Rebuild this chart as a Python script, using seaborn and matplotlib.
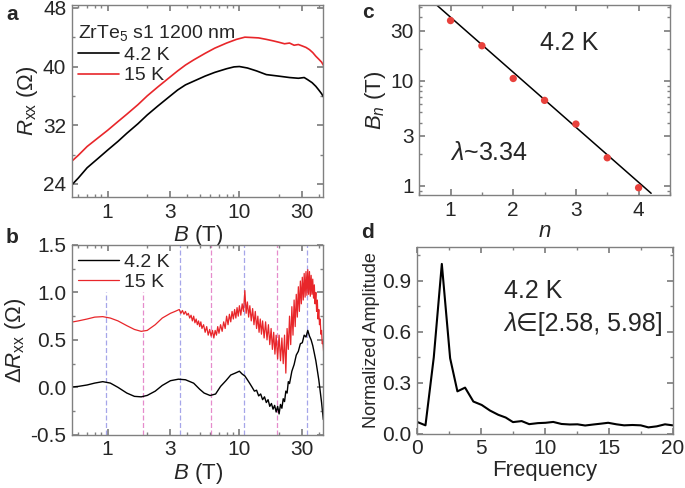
import matplotlib
matplotlib.use('Agg')
import matplotlib.pyplot as plt
import matplotlib.ticker as mticker
import seaborn as sns
import numpy as np

# panel a: R_xx vs B
b_a_42k = [0.5, 0.6, 0.7, 0.85, 1.0, 1.2, 1.4, 1.7, 2.0, 2.4, 2.9, 3.4, 3.9, 4.5, 5.5, 6.5,
           8.0, 9.1, 10.0, 11.5, 13.5, 16.0, 19.7, 24, 28, 31, 33, 35.6, 38, 40, 42, 44]
r_42k = [23.3, 24.8, 26.2, 27.5, 28.6, 29.8, 30.9, 32.2, 33.4, 34.6, 35.8, 36.8, 37.5, 38.0, 38.7, 39.2,
         39.7, 39.95, 40.0, 39.8, 39.4, 38.9, 38.7, 38.5, 38.4, 38.5, 38.2, 37.8, 37.3, 36.8, 36.3, 35.7]
b_a_15k = [0.5, 0.6, 0.7, 0.85, 1.0, 1.2, 1.4, 1.7, 2.0, 2.4, 2.9, 3.4, 3.9, 4.5, 5.5, 6.5, 8.0, 9.5,
           11.0, 12.5, 14, 16, 18, 20, 22, 24, 26, 28, 30, 32, 34, 36, 38, 40, 42, 44]
r_15k = [26.6, 27.9, 29.1, 30.3, 31.3, 32.5, 33.5, 34.8, 36.0, 37.2, 38.4, 39.4, 40.2, 40.9, 41.8, 42.5,
         43.2, 43.7, 44.0, 43.95, 43.9, 43.7, 43.5, 43.3, 43.1, 43.2, 42.9, 43.0, 42.8, 42.6, 42.3,
         41.9, 41.4, 41.0, 40.6, 40.0]

# panel b: oscillating part
b_b_42k = [0.5, 0.6, 0.7, 0.8, 0.92, 1.05, 1.2, 1.4, 1.6, 1.8, 2.0, 2.3, 2.6, 3.0, 3.45, 3.9, 4.5,
           5.0, 5.4, 6.0, 6.6, 7.2, 7.9, 8.6, 9.3, 10.0, 10.5, 11.0, 11.5, 12.0, 12.5, 13.0, 13.5,
           14.0, 14.5, 15.0, 15.5, 16.0, 16.5, 17.0, 17.5, 18.0, 18.5, 19.0, 19.5, 20.0, 20.5, 21.0,
           21.5, 22.0, 22.5, 23.0, 23.5, 24.0, 25.0, 26.0, 27.0, 28.0, 29.0, 30.0, 31.0, 32.0, 33.0,
           34.0, 35.0, 36.0, 37.0, 38.0, 39.0, 40.0, 41.0, 42.0, 43.3]
dr_42k = [0.0, 0.01, 0.025, 0.045, 0.06, 0.045, 0.0, -0.06, -0.095, -0.10, -0.085, -0.04, 0.02, 0.07,
          0.086, 0.08, 0.044, -0.02, -0.06, -0.086, -0.07, 0.01, 0.07, 0.13, 0.15, 0.17, 0.14, 0.12,
          0.08, 0.04, 0.00, -0.04, -0.03, -0.09, -0.07, -0.13, -0.10, -0.16, -0.13, -0.20, -0.17,
          -0.23, -0.19, -0.26, -0.20, -0.28, -0.18, -0.22, -0.12, -0.15, -0.04, -0.06, 0.06, 0.04,
          0.17, 0.24, 0.34, 0.38, 0.46, 0.47, 0.55, 0.53, 0.60, 0.54, 0.50, 0.44, 0.36, 0.28, 0.18,
          0.08, -0.04, -0.16, -0.34]
b_b_15k = [0.5, 0.6, 0.7, 0.8, 0.92, 1.05, 1.2, 1.4, 1.6, 1.8, 2.0, 2.3, 2.6, 3.0, 3.25,
           3.5, 3.6, 3.7, 3.8, 3.9, 4.0,
           4.1, 4.2, 4.3, 4.4, 4.5, 4.6, 4.7, 4.8, 4.9, 5.0,
           5.1, 5.2, 5.35, 5.5, 5.65, 5.8, 5.95, 6.1,
           6.25, 6.4, 6.55, 6.7, 6.85, 7.0,
           7.2, 7.4, 7.6, 7.8, 8.0, 8.2, 8.4, 8.6, 8.8, 9.0, 9.2, 9.4, 9.6, 9.8, 10.0,
           10.25, 10.5, 10.75, 11.0, 11.25, 11.5, 11.75, 12.0,
           12.3, 12.6, 12.9, 13.2, 13.5, 13.8, 14.1, 14.4, 14.7, 15.0,
           15.4, 15.8, 16.2, 16.6, 17.0, 17.4, 17.8, 18.2, 18.6, 19.0, 19.5,
           20.0, 20.5, 21.0, 21.5, 22.0, 22.5, 23.0, 23.5,
           24.0, 24.5, 25.0, 25.5, 26.0, 26.5, 27.0, 27.5, 28.0, 28.5, 29.0, 29.5, 30.0,
           30.5, 31.0, 31.5, 32.0, 32.5, 33.0, 33.5, 34.0, 34.5, 35.0,
           35.5, 36.0, 36.5, 37.0, 37.5, 38.0, 38.5, 39.0, 39.5, 40.0,
           40.5, 41.0, 41.5, 42.0, 42.5, 43.0, 43.5]
dr_15k = [0.68, 0.70, 0.72, 0.74, 0.745, 0.73, 0.70, 0.65, 0.61, 0.59, 0.60, 0.66, 0.73, 0.78, 0.80,
          0.82, 0.78, 0.81, 0.77, 0.80, 0.76,
          0.78, 0.73, 0.76, 0.70, 0.75, 0.68, 0.72, 0.66, 0.70, 0.64,
          0.69, 0.62, 0.66, 0.58, 0.64, 0.55, 0.61, 0.54,
          0.60, 0.52, 0.60, 0.55, 0.64, 0.57,
          0.66, 0.59, 0.69, 0.62, 0.75, 0.66, 0.77, 0.69, 0.80, 0.72, 0.82, 0.73, 0.84, 0.75, 0.86,
          0.76, 0.88, 0.80, 1.02, 0.78, 0.90, 0.74, 0.86,
          0.70, 0.83, 0.66, 0.80, 0.62, 0.75, 0.58, 0.72, 0.56, 0.70,
          0.52, 0.69, 0.50, 0.66, 0.45, 0.62, 0.40, 0.58, 0.35, 0.55, 0.30,
          0.55, 0.28, 0.52, 0.25, 0.55, 0.15, 0.62, 0.40,
          0.75, 0.45, 0.85, 0.55, 0.92, 0.64, 0.98, 0.74, 1.06, 0.80, 1.12, 0.88, 1.16,
          0.92, 1.20, 0.95, 1.22, 0.97, 1.24, 0.98, 1.22, 0.96, 1.18,
          0.98, 1.14, 0.94, 1.08, 0.88, 1.00, 0.80, 0.92, 0.72, 0.82,
          0.66, 0.72, 0.56, 0.60, 0.46, 0.48, 0.38]
dash_b = [0.97, 1.87, 3.55, 6.1, 10.8, 19.2, 32.6]
dash_kind = ['max', 'min', 'max', 'min', 'max', 'min', 'max']
dash_top = [1.0, 1.0, 1.5, 1.5, 1.5, 1.5, 1.5]

# panel c: B_n vs n
n_idx = [1, 1.5, 2, 2.5, 3, 3.5, 4]
b_n = [37.3, 21.5, 10.5, 6.5, 3.87, 1.85, 0.96]
fit_n = [0.7, 4.2]
fit_bn = [57.6, 0.85]

# panel d: FFT
freq = [0, 0.65, 1.3, 1.93, 2.58, 3.15, 3.75, 4.4, 5.05, 5.7, 6.35, 6.93, 7.5, 8.18, 8.77, 9.45,
        10.05, 10.65, 11.3, 11.95, 12.55, 13.15, 13.8, 14.4, 14.95, 15.6, 16.2, 16.85, 17.5, 18.1,
        18.75, 19.4, 20.0]
amp = [0.07, 0.05, 0.45, 1.0, 0.445, 0.25, 0.272, 0.19, 0.17, 0.137, 0.112, 0.096, 0.069, 0.075,
       0.057, 0.063, 0.065, 0.07, 0.058, 0.055, 0.056, 0.049, 0.055, 0.06, 0.065, 0.056, 0.05,
       0.052, 0.05, 0.038, 0.044, 0.056, 0.05]

sns.set_theme(style='ticks')
plt.rcParams['font.family'] = ['Liberation Sans', 'DejaVu Sans']
plt.rcParams['mathtext.fontset'] = 'custom'
plt.rcParams['mathtext.rm'] = 'Liberation Sans'
plt.rcParams['mathtext.it'] = 'Liberation Sans:italic'
plt.rcParams['mathtext.bf'] = 'Liberation Sans:bold'

RED = '#e8262a'
GREY = '#808080'

fig = plt.figure(figsize=(6.85, 4.88), dpi=100)
ax_a = fig.add_axes([0.105, 0.596, 0.367, 0.394])
ax_b = fig.add_axes([0.105, 0.109, 0.367, 0.389])
ax_c = fig.add_axes([0.612, 0.600, 0.366, 0.390])
ax_d = fig.add_axes([0.609, 0.111, 0.373, 0.383])


def style(ax, size=15):
    for s in ax.spines.values():
        s.set_color(GREY)
        s.set_linewidth(1.0)
    ax.tick_params(which='both', direction='in', top=True, right=True, color=GREY,
                   labelsize=size, pad=4)
    ax.tick_params(which='major', length=4)
    ax.tick_params(which='minor', length=2.5)


def log_b_axis(ax):
    ax.set_xscale('log')
    ax.set_xlim(0.537, 43.3)
    ax.xaxis.set_major_locator(mticker.FixedLocator([1, 3, 10, 30]))
    ax.xaxis.set_major_formatter(mticker.FixedFormatter(['1', '3', '10', '30']))
    ax.xaxis.set_minor_locator(mticker.LogLocator(subs=np.arange(2, 10)))
    ax.xaxis.set_minor_formatter(mticker.NullFormatter())
    ax.set_xlabel('$B$ (T)', fontsize=16, labelpad=1)


# a
sns.lineplot(x=b_a_42k, y=r_42k, ax=ax_a, color='black', lw=1.2, estimator=None, sort=False, label='4.2 K')
sns.lineplot(x=b_a_15k, y=r_15k, ax=ax_a, color=RED, lw=1.2, estimator=None, sort=False, label='15 K')
log_b_axis(ax_a)
ax_a.set_ylim(22.2, 48.4)
ax_a.set_yticks([24, 32, 40, 48])
ax_a.yaxis.set_minor_locator(mticker.MultipleLocator(4))
ax_a.set_ylabel(r'$R_{\rm xx}$ ($\Omega$)', fontsize=16, labelpad=2)
style(ax_a)
ax_a.legend(loc='upper left', bbox_to_anchor=(-0.03, 0.975), frameon=False, fontsize=14,
            title='ZrTe$_5$ s1 1200 nm', title_fontsize=14, alignment='left',
            handlelength=2.1, handletextpad=0.25, labelspacing=0.15, borderaxespad=0.3)

# b
for xb, kind, top in zip(dash_b, dash_kind, dash_top):
    ax_b.plot([xb, xb], [-0.5, top], ls=(0, (4, 2)), lw=0.9,
              color='#9090e4' if kind == 'max' else '#e070c0', alpha=0.8, zorder=1)
sns.lineplot(x=b_b_42k, y=dr_42k, ax=ax_b, color='black', lw=1.0, estimator=None, sort=False, label='4.2 K')
sns.lineplot(x=b_b_15k, y=dr_15k, ax=ax_b, color=RED, lw=0.9, estimator=None, sort=False, label='15 K')
log_b_axis(ax_b)
ax_b.set_ylim(-0.5, 1.5)
ax_b.set_yticks([-0.5, 0.0, 0.5, 1.0, 1.5])
ax_b.yaxis.set_major_formatter(mticker.FormatStrFormatter('%.1f'))
ax_b.yaxis.set_minor_locator(mticker.MultipleLocator(0.25))
ax_b.set_ylabel(r'$\Delta R_{\rm xx}$ ($\Omega$)', fontsize=16, labelpad=2)
style(ax_b)
ax_b.legend(loc='upper left', bbox_to_anchor=(-0.03, 1.03), frameon=False, fontsize=14,
            handlelength=2.1, handletextpad=0.25, labelspacing=0.15, borderaxespad=0.3)

# c
sns.lineplot(x=fit_n, y=fit_bn, ax=ax_c, color='black', lw=1.1, estimator=None, sort=False)
sns.scatterplot(x=n_idx, y=b_n, ax=ax_c, color='#e8413c', s=28, edgecolor='none', zorder=3)
ax_c.set_yscale('log')
ax_c.set_xlim(0.5, 4.5)
ax_c.set_ylim(0.815, 52.6)
ax_c.set_xticks([1, 2, 3, 4])
ax_c.xaxis.set_minor_locator(mticker.MultipleLocator(0.5))
ax_c.yaxis.set_major_locator(mticker.FixedLocator([1, 3, 10, 30]))
ax_c.yaxis.set_major_formatter(mticker.FixedFormatter(['1', '3', '10', '30']))
ax_c.yaxis.set_minor_locator(mticker.LogLocator(subs=np.arange(2, 10)))
ax_c.yaxis.set_minor_formatter(mticker.NullFormatter())
ax_c.set_xlabel('$n$', fontsize=16, labelpad=1)
ax_c.set_ylabel('$B_n$ (T)', fontsize=16, labelpad=2)
style(ax_c)
ax_c.text(0.6, 0.8, '4.2 K', transform=ax_c.transAxes, fontsize=18, ha='center', va='center')
ax_c.text(0.28, 0.22, r'$\lambda$~3.34', transform=ax_c.transAxes, fontsize=18, ha='center', va='center')

# d
sns.lineplot(x=freq, y=amp, ax=ax_d, color='black', lw=1.5, estimator=None, sort=False)
ax_d.set_xlim(0, 20)
ax_d.set_ylim(0, 1.1)
ax_d.set_xticks([0, 5, 10, 15, 20])
ax_d.xaxis.set_minor_locator(mticker.MultipleLocator(2.5))
ax_d.set_yticks([0.0, 0.3, 0.6, 0.9])
ax_d.yaxis.set_major_formatter(mticker.FormatStrFormatter('%.1f'))
ax_d.yaxis.set_minor_locator(mticker.MultipleLocator(0.15))
ax_d.set_xlabel('Frequency', fontsize=16, labelpad=1)
ax_d.set_ylabel('Normalized Amplitude', fontsize=13, labelpad=2)
style(ax_d, size=15)
ax_d.text(0.34, 0.765, '4.2 K', transform=ax_d.transAxes, fontsize=18, ha='left', va='center')
lam = ax_d.text(0.34, 0.59, 'λ', transform=ax_d.transAxes, fontsize=18, fontstyle='italic',
                ha='left', va='center')
ax_d.annotate('\u2208[2.58, 5.98]', xy=(1.0, 0.5), xycoords=lam, fontsize=18,
              ha='left', va='center')

# panel letters
for lab, (px, py) in zip('abcd', [(12, 15), (12, 238), (368, 12), (368, 232)]):
    fig.text(px / 685, 1 - py / 488, lab, fontsize=15, fontweight='bold', ha='center', va='center')

fig.savefig('out.png', dpi=100)
